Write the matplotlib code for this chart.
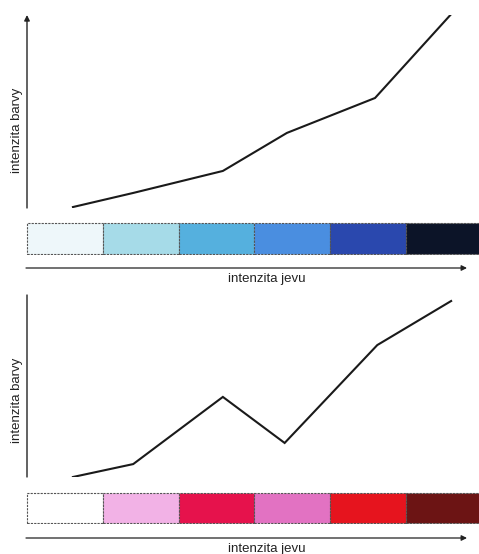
import matplotlib.pyplot as plt

W, H = 479, 554

# values (x in colour-cell units, y 0-10)
top_x = [0.61, 1.41, 2.60, 3.45, 4.62, 5.62]
top_y = [0.05, 0.78, 1.92, 3.89, 5.70, 10.0]
bot_x = [0.61, 1.41, 2.60, 3.42, 4.65, 5.63]
bot_y = [0.0, 0.71, 4.40, 1.87, 7.25, 9.67]

blue_cells = ["#eef7fa", "#a6dbe8", "#55b0de", "#4a8ee0", "#2a48ae", "#0c1428"]
red_cells = ["#ffffff", "#f2b2e6", "#e6124c", "#e272c2", "#e6141e", "#6c1414"]

ylabel = "intenzita barvy"
xlabel = "intenzita jevu"

plt.rcParams["font.family"] = ["Liberation Sans", "DejaVu Sans"]

fig = plt.figure(figsize=(W / 100, H / 100), dpi=100)


def px_axes(x0, y0, x1, y1):
    # pixel box (top-left origin) -> figure axes
    return fig.add_axes([x0 / W, 1 - y1 / H, (x1 - x0) / W, (y1 - y0) / H])


def line_panel(x, y, box, arrow_head, label_pos):
    ax = px_axes(*box)
    ax.plot(x, y, color="#1a1a1a", lw=1.5, solid_joinstyle="miter")
    ax.set_xlim(0, 6)
    ax.set_ylim(0, 10)
    ax.axis("off")
    style = "-|>" if arrow_head else "-"
    ax.annotate("", xy=(0, 1.0), xytext=(0, 0), xycoords="axes fraction",
                arrowprops=dict(arrowstyle=style, color="#222222", lw=1.0,
                                mutation_scale=8, shrinkA=0, shrinkB=0))
    ax.text(-10 / (box[2] - box[0]), label_pos, ylabel, transform=ax.transAxes,
            rotation=90, ha="center", va="center", fontsize=9.5,
            color="#222222")
    return ax


def cell_panel(colors, box):
    ax = px_axes(*box)
    ax.bar(range(len(colors)), [1] * len(colors), width=1, align="edge",
           color=colors, edgecolor="#555555", lw=0.8, linestyle=(0, (2, 1)))
    ax.set_xlim(-0.01, 5.96)
    ax.set_ylim(-0.02, 1.02)
    ax.axis("off")
    return ax


def effect_arrow(y_px):
    ax = fig.add_axes([0, 0, 1, 1])
    ax.set_xlim(0, W)
    ax.set_ylim(H, 0)
    ax.axis("off")
    ax.annotate("", xy=(467, y_px), xytext=(26, y_px),
                arrowprops=dict(arrowstyle="-|>", color="#222222", lw=0.9,
                                mutation_scale=8, shrinkA=0, shrinkB=0))
    ax.text(267, y_px + 5, xlabel, ha="center", va="top", fontsize=9.5,
            color="#222222")


line_panel(top_x, top_y, (27, 15, 479, 208), True, 0.40)
cell_panel(blue_cells, (26, 222, 479, 255))
effect_arrow(268)

line_panel(bot_x, bot_y, (27, 295, 479, 477), False, 0.42)
cell_panel(red_cells, (26, 492, 479, 524))
effect_arrow(538)

fig.savefig("out.png", dpi=100)
